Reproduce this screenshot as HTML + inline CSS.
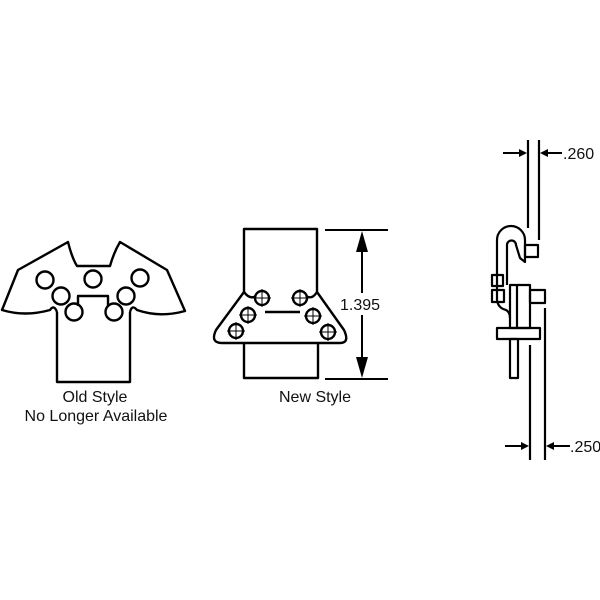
<!DOCTYPE html>
<html><head><style>
html,body{margin:0;padding:0;background:#fff;width:600px;height:600px;overflow:hidden}
svg{display:block}
text{font-family:"Liberation Sans",sans-serif;font-size:16px;fill:#111}
</style></head><body>
<svg width="600" height="600" viewBox="0 0 600 600" xmlns="http://www.w3.org/2000/svg">
<g fill="none" stroke="#000" stroke-width="2.4" stroke-linejoin="round">
<!-- Old style -->
<path d="M57,312 L57,382 L130,382 L130,312"/>
<path d="M57,312 Q54,304 50,310 Q25,317 2,310 L18,270 L68,242 Q72,258 77,266 L110,266 Q114,252 120,242 L167,270 L185,311 Q160,318 137,310 Q132,304 130,312"/>
<path d="M78,306 L78,296 L108,296 L108,306"/>
<circle cx="45" cy="280" r="8.5"/><circle cx="93" cy="279" r="8.5"/><circle cx="140" cy="278" r="8.5"/>
<circle cx="61" cy="296" r="8.5"/><circle cx="126" cy="296" r="8.5"/>
<circle cx="74" cy="312" r="8.5"/><circle cx="114" cy="312" r="8.5"/>
<!-- New style -->
<path d="M244,292 L244,229 L317,229 L317,292"/>
<path d="M244,343 L244,378 L318,378 L318,343"/>
<path d="M244,292 Q250,300 256,296 M317,292 Q312,300 306,296"/>
<path d="M244,292 L216,330 Q210,343 222,343 L340,343 Q350,343 344,330 L317,292"/>
<path d="M265,312 L300,312"/>
<circle cx="262" cy="298" r="7"/><circle cx="300" cy="298" r="7"/>
<circle cx="248" cy="315" r="7"/><circle cx="313" cy="316" r="7"/>
<circle cx="236" cy="331" r="7"/><circle cx="328" cy="332" r="7"/>
</g>
<g stroke="#000" stroke-width="1" fill="none">
<path d="M262,289v18M253,298h18M300,289v18M291,298h18M248,306v18M239,315h18M313,307v18M304,316h18M236,322v18M227,331h18M328,323v18M319,332h18"/>
</g>
<g stroke="#000" stroke-width="2">
<line x1="325" y1="230" x2="388" y2="230"/>
<line x1="325" y1="379" x2="388" y2="379"/>
<line x1="362" y1="240" x2="362" y2="369"/>
</g>
<polygon points="362,231 356,252 368,252" fill="#000"/>
<polygon points="362,378 356,357 368,357" fill="#000"/>
<rect x="338" y="293" width="48" height="22" fill="#fff"/>
<text x="340" y="310">1.395</text>
<text x="95" y="402" text-anchor="middle">Old Style</text>
<text x="96" y="421" text-anchor="middle">No Longer Available</text>
<text x="315" y="402" text-anchor="middle">New Style</text>
<!-- Side view -->
<g fill="none" stroke="#000" stroke-width="2.2" stroke-linejoin="round">
<line x1="528" y1="140" x2="528" y2="228"/>
<line x1="539" y1="140" x2="539" y2="240"/>
<path d="M497,300 L497,240 A14,14 0 0 1 525,240 L525,262 L520,258 L516,245 A4.5,4.5 0 0 0 507,245 L507,285"/>
<rect x="525" y="245" width="13" height="12"/>
<rect x="492" y="275" width="11" height="11"/>
<rect x="492" y="290" width="12" height="12"/>
<path d="M497,300 Q498,308 506,310 Q510,312 510,318"/>
<rect x="510" y="285" width="20" height="43"/>
<line x1="517" y1="285" x2="517" y2="328"/>
<rect x="530" y="290" width="15" height="13"/>
<rect x="497" y="328" width="43" height="11"/>
<rect x="510" y="339" width="8" height="39"/>
<line x1="530" y1="345" x2="530" y2="460"/>
<line x1="545" y1="308" x2="545" y2="460"/>
</g>
<g stroke="#000" stroke-width="2">
<line x1="503" y1="153" x2="520" y2="153"/>
<line x1="546" y1="153" x2="562" y2="153"/>
<line x1="505" y1="446" x2="522" y2="446"/>
<line x1="553" y1="446" x2="570" y2="446"/>
</g>
<polygon points="527,153 519,149 519,157" fill="#000"/>
<polygon points="540,153 548,149 548,157" fill="#000"/>
<polygon points="529,446 521,442 521,450" fill="#000"/>
<polygon points="546,446 554,442 554,450" fill="#000"/>
<text x="563" y="159">.260</text>
<text x="570" y="452">.250</text>
</svg>
</body></html>
